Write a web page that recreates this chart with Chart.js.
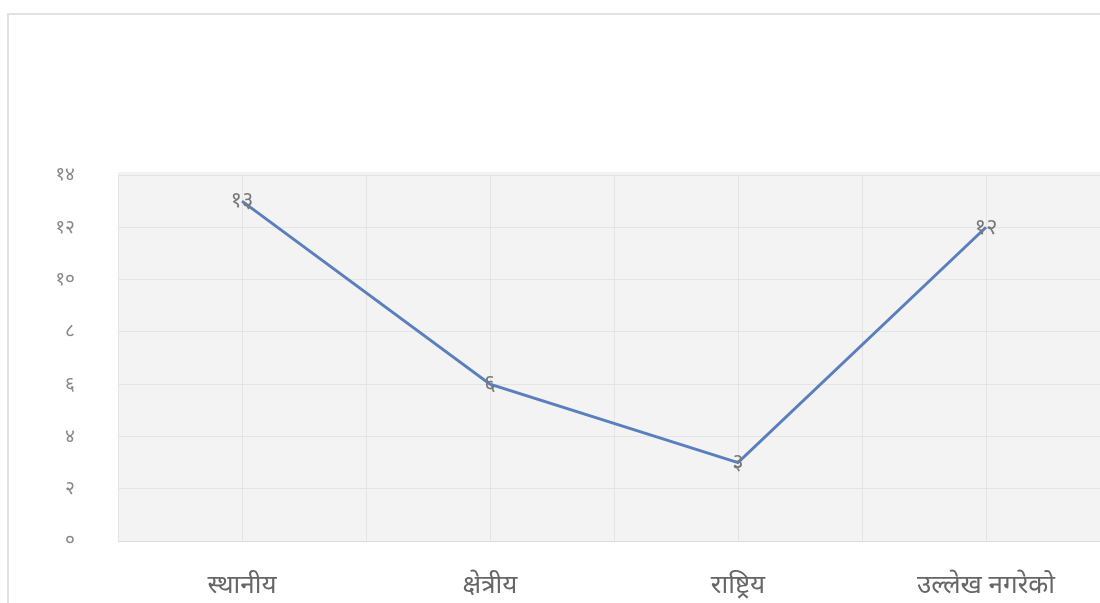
<!DOCTYPE html>
<html>
<head>
<meta charset="utf-8">
<script src="https://cdn.jsdelivr.net/npm/chart.js@4/dist/chart.umd.min.js"></script>
<style>
    html, body { margin: 0; padding: 0; background: #fff; overflow: hidden; }
    body { width: 1100px; height: 603px; position: relative; }
    #frame {
        position: absolute; left: 7px; top: 13px; width: 1200px; height: 700px;
        border-left: 2px solid #e2e2e2; border-top: 2px solid #e2e2e2;
    }
    #wrap { position: absolute; left: 0; top: 0; width: 1110px; height: 603px; }
</style>
</head>
<body>
<div id="frame"></div>
<div id="wrap"><canvas id="lineChart"></canvas></div>
<script>
// Chart data
const categories = ['स्थानीय', 'क्षेत्रीय', 'राष्ट्रिय', 'उल्लेख नगरेको'];
const seriesValues = [13, 6, 3, 12];
const yTickValues = [0, 2, 4, 6, 8, 10, 12, 14];

const DEVANAGARI_DIGITS = ['०', '१', '२', '३', '४', '५', '६', '७', '८', '९'];

// Convert western digits to Devanagari digits
function toNepali(n) {
    return String(n).replace(/[0-9]/g, d => DEVANAGARI_DIGITS[+d]);
}

const FONT = "'Noto Sans', 'Noto Sans Devanagari', 'Lohit Devanagari', sans-serif";

// Gray plot background
const plotBackground = {
    id: 'plotBackground',
    beforeDraw(chart) {
        const { ctx, chartArea } = chart;
        ctx.save();
        ctx.fillStyle = '#f3f3f3';
        ctx.fillRect(chartArea.left, chartArea.top - 3, chartArea.right - chartArea.left, chartArea.bottom - chartArea.top + 3);
        ctx.restore();
    }
};

// Value labels centred on each point
const valueLabels = {
    id: 'valueLabels',
    afterDatasetsDraw(chart) {
        const { ctx } = chart;
        const meta = chart.getDatasetMeta(0);
        ctx.save();
        ctx.font = '22px ' + FONT;
        ctx.fillStyle = '#787878';
        ctx.textAlign = 'center';
        ctx.textBaseline = 'middle';
        meta.data.forEach((pt, i) => {
            ctx.fillText(toNepali(seriesValues[i]), pt.x, pt.y);
        });
        ctx.restore();
    }
};

const ctx = document.getElementById('lineChart').getContext('2d');

new Chart(ctx, {
    type: 'line',
    data: {
        labels: categories,
        datasets: [{
            data: seriesValues,
            borderColor: '#5a7fbf',
            borderWidth: 3,
            pointRadius: 0,
            fill: false,
            tension: 0
        }]
    },
    options: {
        responsive: true,
        maintainAspectRatio: false,
        animation: false,
        layout: { padding: { top: 175, right: 0, left: 0, bottom: 0 } },
        plugins: {
            legend: { display: false },
            tooltip: { enabled: false }
        },
        scales: {
            x: {
                offset: true,
                grid: { color: '#e4e4e4', drawTicks: false, offset: false },
                border: { color: '#dcdcdc' },
                ticks: { color: '#666', padding: 29, font: { family: FONT, size: 26 } },
                afterFit(scale) { scale.height = 62; }
            },
            x2: {
                type: 'category',
                labels: categories,
                offset: true,
                position: 'bottom',
                grid: { color: '#e4e4e4', drawTicks: false, offset: true },
                border: { display: false },
                ticks: { display: false },
                afterFit(scale) { scale.height = 0; }
            },
            y: {
                min: 0,
                max: 14,
                afterBuildTicks(scale) {
                    scale.ticks = yTickValues.map(v => ({ value: v }));
                },
                grid: { color: '#e4e4e4', drawTicks: false },
                border: { display: false },
                ticks: {
                    color: '#888',
                    padding: 43,
                    font: { family: FONT, size: 19 },
                    callback: v => toNepali(v)
                },
                afterFit(scale) { scale.width = 118; }
            }
        }
    },
    plugins: [plotBackground, valueLabels]
});
</script>
</body>
</html>
